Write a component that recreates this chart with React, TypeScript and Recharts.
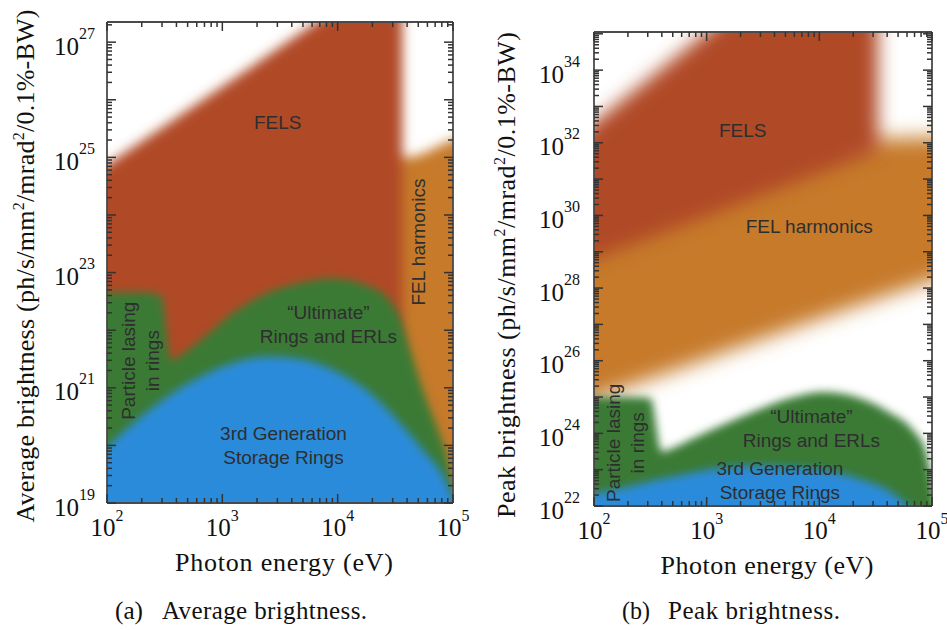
import React from "react";
import { ComposedChart, Area, XAxis, YAxis, ReferenceDot } from "recharts";

/* ── Photon energy axis, decades of eV ── */
const energyDecades = [2, 3, 4, 5];

/* ── (a) Average brightness: rows are [log10 eV, log10 low, log10 high] ── */
const avgDecades = [19, 20, 21, 22, 23, 24, 25, 26, 27];
const avgLabelled = [19, 21, 23, 25, 27];

const avgHarmonics = [
  [4.3, 17, 25.0],
  [4.6, 17, 25.0],
  [5.0, 17, 25.3],
  [5.3, 17, 25.45],
];

const avgFels = [
  [1.7, 17, 24.46],
  [2.0, 17, 24.87],
  [3.0, 17, 26.23],
  [4.0, 17, 27.6],
  [4.56, 17, 28.36],
];

const avgRings = [
  [1.7, 17, 22.65],
  [2.0, 17, 22.66],
  [2.3, 17, 22.66],
  [2.47, 17, 22.6],
  [2.56, 17, 21.48],
  [2.66, 17, 21.6],
  [2.81, 17, 21.83],
  [3.09, 17, 22.3],
  [3.39, 17, 22.65],
  [3.67, 17, 22.82],
  [3.96, 17, 22.9],
  [4.25, 17, 22.78],
  [4.45, 17, 22.52],
  [4.54, 17, 22.23],
  [4.63, 17, 21.66],
  [4.74, 17, 20.96],
  [4.86, 17, 20.32],
  [4.95, 17, 19.8],
  [5.0, 17, 19.35],
  [5.1, 17, 18.3],
  [5.2, 17, 17.2],
];

const avgStorage = [
  [1.7, 17, 19.4],
  [2.0, 17, 19.97],
  [2.23, 17, 20.39],
  [2.52, 17, 20.84],
  [2.81, 17, 21.19],
  [3.09, 17, 21.43],
  [3.39, 17, 21.54],
  [3.67, 17, 21.5],
  [3.96, 17, 21.31],
  [4.25, 17, 20.96],
  [4.54, 17, 20.39],
  [4.74, 17, 19.92],
  [4.92, 17, 19.45],
  [5.0, 17, 19.1],
  [5.15, 17, 18.3],
  [5.3, 17, 17.2],
];

/* ── (b) Peak brightness ── */
const peakDecades = [22, 23, 24, 25, 26, 27, 28, 29, 30, 31, 32, 33, 34, 35];
const peakLabelled = [22, 24, 26, 28, 30, 32, 34];

const peakHarmonics = [
  [1.7, 24.6, 31.0],
  [2.0, 24.95, 31.5],
  [3.0, 26.05, 32.1],
  [4.0, 27.15, 32.1],
  [5.0, 28.2, 32.15],
  [5.3, 28.5, 32.2],
];

const peakFels = [
  [1.7, 28.45, 31.8],
  [2.0, 28.8, 32.55],
  [3.0, 29.98, 35.05],
  [4.0, 31.16, 37.55],
  [4.52, 31.77, 38.85],
];

const peakRings = [
  [1.7, 20, 25.0],
  [2.0, 20, 25.0],
  [2.3, 20, 25.0],
  [2.5, 20, 24.97],
  [2.6, 20, 23.5],
  [2.7, 20, 23.6],
  [2.85, 20, 23.82],
  [3.14, 20, 24.23],
  [3.45, 20, 24.64],
  [3.74, 20, 24.97],
  [4.03, 20, 25.14],
  [4.33, 20, 25.0],
  [4.63, 20, 24.56],
  [4.83, 20, 24.09],
  [4.95, 20, 23.46],
  [5.02, 20, 22.3],
  [5.1, 20, 20.8],
  [5.2, 20, 20.1],
];

const peakStorage = [
  [1.7, 20, 22.2],
  [2.03, 20, 22.36],
  [2.26, 20, 22.5],
  [2.56, 20, 22.72],
  [2.85, 20, 22.9],
  [3.14, 20, 23.05],
  [3.45, 20, 23.1],
  [3.74, 20, 23.07],
  [4.03, 20, 22.99],
  [4.33, 20, 22.77],
  [4.63, 20, 22.39],
  [4.8, 20, 21.97],
  [4.95, 20, 21.4],
  [5.1, 20, 20.6],
  [5.2, 20, 20.1],
];

const RED = "#b04a28";
const ORANGE = "#c67a2a";
const GREEN = "#3a7a36";
const BLUE = "#2a8bda";
const INK = "#2e2e2e";
const FRAME = "#4a4a4a";
const TICK = "#333333";
const SERIF = '"Liberation Serif", "Times New Roman", serif';
const SANS = '"Liberation Sans", Arial, sans-serif';

const toPoints = (rows: number[][]) =>
  rows.map(([e, lo, hi]) => ({ ev: 10 ** e, b: [10 ** lo, 10 ** hi] }));

// decade ticks plus the 2..9 minor ticks inside the domain
const logTicks = (decades: number[], top: number) => {
  const out: number[] = [];
  decades.forEach((d) => {
    for (let k = 1; k <= 9; k++) {
      const v = k * 10 ** d;
      if (Math.log10(v) <= top + 1e-9) out.push(v);
    }
  });
  return out;
};

const isDecade = (v: number) =>
  Math.abs(Math.log10(v) - Math.round(Math.log10(v))) < 1e-6;

// inward tick mark, long on decades, plus the 10^n label where wanted;
// the bottom axis also marks the matching tick on the top edge (span = plot height)
function EdgeTick(props: any) {
  const { x, y, payload, side, labelled = [], gap = 12, span = 0 } = props;
  const v = payload.value;
  const major = isDecade(v);
  const len = major ? 9 : 5;
  const exp = Math.round(Math.log10(v));
  const show = major && labelled.includes(exp);
  const dx = side === "left" ? len : side === "right" ? -len : 0;
  const dy = side === "bottom" ? -len : 0;
  return (
    <g>
      <line x1={x} y1={y} x2={x + dx} y2={y + dy} stroke={TICK} strokeWidth={1.5} />
      {side === "bottom" && (
        <line x1={x} y1={y - span} x2={x} y2={y - span + len} stroke={TICK} strokeWidth={1.5} />
      )}
      {show && side === "bottom" && (
        <text x={x} y={y + 33} textAnchor="middle" fontFamily={SERIF} fontSize={25} fill="#111">
          10
          <tspan dy={-15} fontSize={16}>
            {exp}
          </tspan>
        </text>
      )}
      {show && side === "left" && (
        <text x={x - gap} y={y + 12.5} textAnchor="end" fontFamily={SERIF} fontSize={25} fill="#111">
          10
          <tspan dy={-16} fontSize={16}>
            {exp}
          </tspan>
        </text>
      )}
    </g>
  );
}

function Note({ cx, cy, lines, rotate }: any) {
  const gap = 23.5;
  return (
    <text
      transform={rotate ? `rotate(-90 ${cx} ${cy})` : undefined}
      fontFamily={SANS}
      fontSize={19}
      fill={INK}
      textAnchor="middle"
      dominantBaseline="central"
    >
      {lines.map((l: string, i: number) => (
        <tspan key={i} x={cx} y={cy + (i - (lines.length - 1) / 2) * gap}>
          {l}
        </tspan>
      ))}
    </text>
  );
}

const avgRegions = [
  { rows: avgHarmonics, fill: ORANGE, haze: "haze-6" },
  { rows: avgFels, fill: RED, haze: "haze-6" },
  { rows: avgRings, fill: GREEN, haze: "haze-4" },
  { rows: avgStorage, fill: BLUE, haze: "haze-4" },
];

const peakRegions = [
  { rows: peakHarmonics, fill: ORANGE, haze: "haze-10" },
  { rows: peakFels, fill: RED, haze: "haze-9" },
  { rows: peakRings, fill: GREEN, haze: "haze-4" },
  { rows: peakStorage, fill: BLUE, haze: "haze-4" },
];

const avgNotes = [
  { lines: ["FELS"], at: [3.48, 25.61] },
  { lines: ["FEL harmonics"], at: [4.7, 23.53], rotate: true },
  { lines: ["Particle lasing", "in rings"], at: [2.286, 21.47], rotate: true },
  { lines: ["\u201cUltimate\u201d", "Rings and ERLs"], at: [3.92, 22.11] },
  { lines: ["3rd Generation", "Storage Rings"], at: [3.53, 20.01] },
];

const peakNotes = [
  { lines: ["FELS"], at: [3.32, 32.36] },
  { lines: ["FEL harmonics"], at: [3.91, 29.71] },
  { lines: ["Particle lasing", "in rings"], at: [2.275, 23.74], rotate: true },
  { lines: ["\u201cUltimate\u201d", "Rings and ERLs"], at: [3.93, 24.15] },
  { lines: ["3rd Generation", "Storage Rings"], at: [3.65, 22.72] },
];

function YTitle({ x, y, lead, length }: any) {
  return (
    <text
      x={x}
      y={y}
      transform={`rotate(-90 ${x} ${y})`}
      textAnchor="middle"
      fontFamily={SERIF}
      fontSize={26}
      fill="#111"
      textLength={length}
      lengthAdjust="spacing"
    >
      {lead} (ph/s/mm
      <tspan dy={-10} fontSize={16}>
        2
      </tspan>
      <tspan dy={10}>/mrad</tspan>
      <tspan dy={-10} fontSize={16}>
        2
      </tspan>
      <tspan dy={10}>/0.1%-BW)</tspan>
    </text>
  );
}

const grow = (m: any) => ({ top: m.top + 1, right: m.right + 1, bottom: m.bottom + 1, left: m.left + 1 });

// Two stacked charts share one geometry: fills underneath, frame, ticks and notes on top.
// Axes are 1px thick so that Recharts still draws them; margins absorb that pixel.
function Panel(p: any) {
  const yDomain = [10 ** p.yMin, 10 ** p.yMax];
  const xTicks = logTicks(energyDecades.slice(0, 3), 5).concat([1e5]);
  const yTicks = logTicks(p.decades, p.yMax);
  const frame = { stroke: FRAME, strokeWidth: 1.8 };
  const layer = { position: "absolute" as const, left: 0, top: 0 };
  const span = 630 - p.margin.top - p.margin.bottom - 2;
  return (
    <div style={{ position: "relative", width: p.width, height: 630 }}>
      <div style={{ ...layer, zIndex: 0 }}>
        <ComposedChart width={p.width} height={630} margin={grow(p.margin)}>
          <XAxis dataKey="ev" type="number" scale="log" domain={[100, 1e5]} allowDataOverflow hide />
          <YAxis type="number" scale="log" domain={yDomain} allowDataOverflow hide />
          {p.regions.map((r: any, i: number) => (
            <Area
              key={i}
              data={toPoints(r.rows)}
              dataKey="b"
              type="monotone"
              fill={r.fill}
              fillOpacity={1}
              stroke="none"
              className={r.haze}
              isAnimationActive={false}
              dot={false}
              activeDot={false}
            />
          ))}
        </ComposedChart>
      </div>
      <div style={{ ...layer, zIndex: 1 }}>
        <ComposedChart width={p.width} height={630} margin={p.margin}>
          <XAxis
            dataKey="ev"
            type="number"
            scale="log"
            domain={[100, 1e5]}
            allowDataOverflow
            ticks={xTicks}
            interval={0}
            height={1}
            tickSize={0}
            tickMargin={0}
            tickLine={false}
            axisLine={frame}
            tick={<EdgeTick side="bottom" labelled={energyDecades} span={span} />}
            label={{
              content: ({ viewBox }: any) => (
                <text
                  x={viewBox.x + viewBox.width / 2 + 4}
                  y={viewBox.y + 68}
                  textAnchor="middle"
                  fontFamily={SERIF}
                  fontSize={26}
                  fill="#111"
                  textLength={p.xTitleLength}
                  lengthAdjust="spacing"
                >
                  Photon energy (eV)
                </text>
              ),
            }}
          />
          <XAxis
            xAxisId="top"
            orientation="top"
            dataKey="ev"
            type="number"
            scale="log"
            domain={[100, 1e5]}
            allowDataOverflow
            height={1}
            tickLine={false}
            tick={false}
            axisLine={frame}
          />
          <YAxis
            type="number"
            scale="log"
            domain={yDomain}
            allowDataOverflow
            ticks={yTicks}
            interval={0}
            width={1}
            tickSize={0}
            tickMargin={0}
            tickLine={false}
            axisLine={frame}
            tick={<EdgeTick side="left" labelled={p.labelled} gap={p.tickGap} />}
            label={{
              content: ({ viewBox }: any) => (
                <YTitle
                  x={viewBox.x + viewBox.width - p.yTitleOffset}
                  y={viewBox.y + viewBox.height / 2 + p.yTitleShift}
                  lead={p.yTitle}
                  length={p.yTitleLength}
                />
              ),
            }}
          />
          <YAxis
            yAxisId="right"
            orientation="right"
            type="number"
            scale="log"
            domain={yDomain}
            allowDataOverflow
            ticks={yTicks}
            interval={0}
            width={1}
            tickSize={0}
            tickMargin={0}
            tickLine={false}
            axisLine={frame}
            tick={<EdgeTick side="right" />}
          />
          {p.notes.map((n: any, i: number) => (
            <ReferenceDot
              key={`n${i}`}
              x={10 ** n.at[0]}
              y={10 ** n.at[1]}
              r={0}
              ifOverflow="visible"
              shape={(s: any) => <Note cx={s.cx} cy={s.cy} lines={n.lines} rotate={n.rotate} />}
            />
          ))}
        </ComposedChart>
      </div>
    </div>
  );
}

const hazeCss = [4, 6, 9, 10]
  .map((s) => `.haze-${s} .recharts-area-area { filter: url(#haze-${s}); }`)
  .join("\n");

export default function App() {
  return (
    <div style={{ position: "absolute", left: 0, top: 0, width: 947, height: 630, background: "#fff" }}>
      <style>{hazeCss}</style>
      <svg width={0} height={0} style={{ position: "absolute" }}>
        <defs>
          {[4, 6, 9, 10].map((s) => (
            <filter key={s} id={`haze-${s}`} x="-30%" y="-30%" width="160%" height="160%">
              <feGaussianBlur stdDeviation={s} />
            </filter>
          ))}
        </defs>
      </svg>

      <div style={{ position: "absolute", left: 0, top: 0 }}>
        <Panel
          width={480}
          margin={{ top: 21, right: 26, bottom: 126, left: 106 }}
          yMin={19}
          yMax={27.35}
          decades={avgDecades}
          labelled={avgLabelled}
          tickGap={12}
          regions={avgRegions}
          notes={avgNotes}
          yTitle="Average brightness"
          yTitleOffset={73}
          yTitleShift={3.5}
          yTitleLength={513}
          xTitleLength={218}
        />
      </div>

      <div style={{ position: "absolute", left: 480, top: 0 }}>
        <Panel
          width={467}
          margin={{ top: 31, right: 14, bottom: 123, left: 113 }}
          yMin={22}
          yMax={35.05}
          decades={peakDecades}
          labelled={peakLabelled}
          tickGap={14}
          regions={peakRegions}
          notes={peakNotes}
          yTitle="Peak brightness"
          yTitleOffset={79}
          yTitleShift={6}
          yTitleLength={486}
          xTitleLength={213}
        />
      </div>

      {/* sub-figure captions */}
      <svg width={947} height={630} style={{ position: "absolute", left: 0, top: 0, pointerEvents: "none" }}>
        <g fontFamily={SERIF} fontSize={25} fill="#111">
          <text x={115} y={619} textLength={28} lengthAdjust="spacingAndGlyphs">(a)</text>
          <text x={162} y={619} textLength={205} lengthAdjust="spacing">Average brightness.</text>
          <text x={622} y={619} textLength={28} lengthAdjust="spacingAndGlyphs">(b)</text>
          <text x={668} y={619} textLength={172} lengthAdjust="spacing">Peak brightness.</text>
        </g>
      </svg>
    </div>
  );
}
